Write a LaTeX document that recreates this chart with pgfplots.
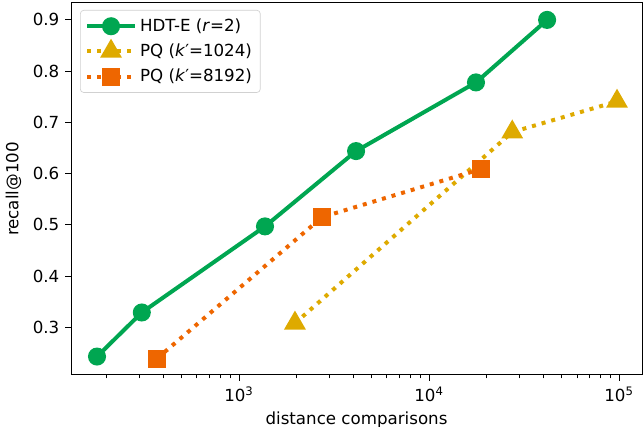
\documentclass[border=0pt]{standalone}
\usepackage{pgfplots}
\pgfplotsset{compat=1.18}
\usepackage{fontspec}
\setmainfont{DejaVu Sans}
\definecolor{hdtgreen}{RGB}{0,166,81}
\definecolor{pqyellow}{RGB}{222,170,0}
\definecolor{pqorange}{RGB}{238,102,0}
\begin{document}
\begin{tikzpicture}
\begin{axis}[
    scale only axis, width=342.6pt, height=223.2pt,
    xmode=log, xmin=130.6, xmax=132000,
    ymin=0.207, ymax=0.933,
    xtick={1000,10000,100000},
    xticklabels={10\textsuperscript{3},10\textsuperscript{4},10\textsuperscript{5}},
    minor xtick={200,300,400,500,600,700,800,900,2000,3000,4000,5000,6000,7000,8000,9000,20000,30000,40000,50000,60000,70000,80000,90000},
    ytick={0.3,0.4,0.5,0.6,0.7,0.8,0.9},
    yticklabel style={/pgf/number format/fixed, /pgf/number format/precision=1, /pgf/number format/fixed zerofill},
    /pgf/number format/assume math mode=true,
    tick align=outside, tick pos=left,
    major tick length=3.5pt, minor tick length=2pt,
    every tick/.style={black, line width=0.5pt},
    axis line style={line width=0.6pt},
    xlabel={distance comparisons}, ylabel={recall@100},
    xlabel style={yshift=1pt},
    legend cell align=left,
    legend image code/.code={\draw[mark repeat=2, mark phase=2] plot coordinates {(0cm,0cm) (0.5cm,0cm) (1cm,0cm)};},
    legend style={at={(0,1)}, anchor=north west, xshift=5.4pt, yshift=-4.2pt,
        draw=black!18, rounded corners=2pt, fill=white,
        row sep=2pt, inner sep=3pt},
]
\coordinate (SW) at (rel axis cs:0,0);
\coordinate (NE) at (rel axis cs:1,1);

% HDT-E (r=2)
\addplot[hdtgreen, line width=2.4pt, mark=*, mark size=4.2pt, mark options={solid}] coordinates {
    (179, 0.243) (308, 0.329) (1370, 0.497) (4130, 0.644) (17660, 0.778) (41800, 0.900)
};
\addlegendentry{HDT-E (\textit{r}=2)}

% PQ (k'=1024)
\addplot[pqyellow, line width=2.4pt, dash pattern=on 2.4pt off 3.6pt, mark=triangle*, mark size=5.2pt, mark options={solid}] coordinates {
    (1970, 0.308) (27400, 0.681) (97500, 0.741)
};
\addlegendentry{PQ (\textit{k}′=1024)}

% PQ (k'=8192)
\addplot[pqorange, line width=2.4pt, dash pattern=on 2.4pt off 3.6pt, mark=square*, mark size=4.2pt, mark options={solid}] coordinates {
    (370, 0.239) (2735, 0.515) (18800, 0.609)
};
\addlegendentry{PQ (\textit{k}′=8192)}
\end{axis}
\pgfresetboundingbox
\useasboundingbox ([shift={(-42.6pt,-31.2pt)}]SW) rectangle ([shift={(0.6pt,1.8pt)}]NE);
\end{tikzpicture}
\end{document}
